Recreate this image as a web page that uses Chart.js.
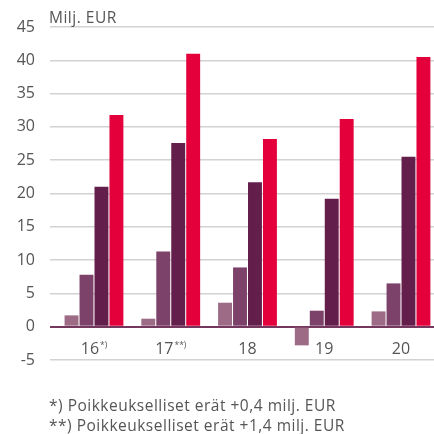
<!DOCTYPE html>
<html>
<head>
<meta charset="utf-8">
<script src="https://cdn.jsdelivr.net/npm/chart.js@4"></script>
<style>
  html, body { margin: 0; padding: 0; background: #fff; overflow: hidden; }
  #wrap { position: relative; width: 434px; height: 434px; }
</style>
</head>
<body>
<div id="wrap"><canvas id="chart" width="434" height="434"></canvas></div>
<script>
// Data
var vuodet = ["16", "17", "18", "19", "20"];
var alaviitteet = ["*)", "**)", "", "", ""];
var sarja1 = [1.7, 1.2, 3.6, -2.8, 2.3];
var sarja2 = [7.8, 11.3, 8.9, 2.4, 6.5];
var sarja3 = [21.0, 27.6, 21.7, 19.2, 25.5];
var sarja4 = [31.8, 41.0, 28.2, 31.2, 40.5];
var yTicks = [-5, 0, 5, 10, 15, 20, 25, 30, 35, 40, 45];
var otsikko = "Milj. EUR";
var huomautukset = [
  "*) Poikkeukselliset erät +0,4 milj. EUR",
  "**) Poikkeukselliset erät +1,4 milj. EUR",
];

// bouw {x, y} punten voor lineaire x-as
function punten(arr) {
  return arr.map(function (v, i) { return { x: i, y: v }; });
}

var FAM = "'Open Sans', Lato, sans-serif";

// tekst plugin: x-labels met superscript, titel en voetnoten
var tekstPlugin = {
  id: "tekstit",
  afterDraw: function (chart) {
    var c = chart.ctx;
    var xs = chart.scales.x;
    c.save();
    c.fillStyle = "#555555";
    c.textBaseline = "alphabetic";
    c.textAlign = "left";

    vuodet.forEach(function (v, i) {
      var x = xs.getPixelForValue(i);
      c.font = "16px " + FAM;
      var wMain = c.measureText(v).width;
      c.font = "8.5px " + FAM;
      var wSup = alaviitteet[i] ? c.measureText(alaviitteet[i]).width + 1 : 0;
      var start = x - (wMain + wSup) / 2;
      c.font = "16px " + FAM;
      c.fillText(v, start, 354);
      if (alaviitteet[i]) {
        c.font = "8.5px " + FAM;
        c.fillText(alaviitteet[i], start + wMain + 1, 348);
      }
    });

    // titel en voetnoten iets ruimer gespatieerd
    c.letterSpacing = "0.5px";
    c.font = "15.5px " + FAM;
    c.fillText(otsikko, 49, 23);
    c.fillText(huomautukset[0], 49, 411);
    c.fillText(huomautukset[1], 49, 431);
    c.restore();
  },
};

var varit = ["#9d6b86", "#7d4269", "#641e4c", "#e4003b"];

new Chart(document.getElementById("chart").getContext("2d"), {
  type: "bar",
  data: {
    datasets: [sarja1, sarja2, sarja3, sarja4].map(function (s, k) {
      return {
        data: punten(s),
        backgroundColor: varit[k],
        borderWidth: 0,
        categoryPercentage: 0.78,
        barPercentage: 0.93,
      };
    }),
  },
  options: {
    responsive: false,
    animation: false,
    layout: { padding: { top: 27, right: 0, bottom: 0, left: 0 } },
    plugins: {
      legend: { display: false },
      tooltip: { enabled: false },
    },
    scales: {
      x: {
        type: "linear",
        offset: false,
        min: -0.573,
        max: 4.43,
        grid: { display: false },
        border: { display: false },
        ticks: { display: false, stepSize: 1, includeBounds: false },
        afterFit: function (s) { s.height = 74; },
      },
      y: {
        min: -5,
        max: 45,
        afterBuildTicks: function (s) {
          s.ticks = yTicks.map(function (v) { return { value: v }; });
        },
        afterFit: function (s) { s.width = 50; },
        border: { display: false },
        grid: {
          drawTicks: false,
          tickLength: 0,
          color: function (c) { return c.tick && c.tick.value === 0 ? "#74385f" : "#d2d2d2"; },
          lineWidth: function (c) { return c.tick && c.tick.value === 0 ? 2 : 1.5; },
        },
        ticks: {
          padding: 15,
          color: "#555555",
          font: { family: FAM, size: 16 },
        },
      },
    },
  },
  plugins: [tekstPlugin],
});
</script>
</body>
</html>
